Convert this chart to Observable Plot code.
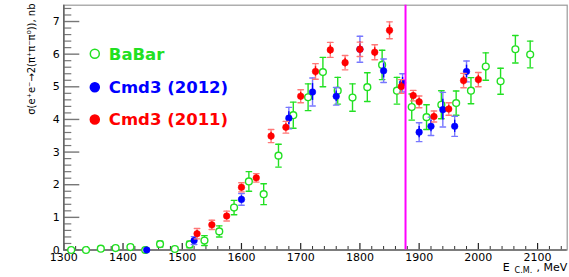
<!DOCTYPE html>
<html><head><meta charset="utf-8">
<script src="https://cdn.jsdelivr.net/npm/d3@7"></script>
<script src="https://cdn.jsdelivr.net/npm/@observablehq/plot@0.6"></script>
<style>body{margin:0;background:#fff} #chart svg{display:block;background:#fff}</style>
</head><body><div id="chart"></div>
<script>
// ---- data ----
const babarE = [1312.5,1337.5,1362.5,1387.5,1412.5,1437.5,1462.5,1487.5,1512.5,1537.5,1562.5,1587.5,1612.5,1637.5,1662.5,1687.5,1712.5,1737.5,1762.5,1787.5,1812.5,1837.5,1862.5,1887.5,1912.5,1937.5,1962.5,1987.5,2012.5,2037.5,2062.5,2087.5];
const babarSigma = [0.00,0.00,0.04,0.06,0.09,0.00,0.18,0.03,0.17,0.29,0.57,1.30,2.10,1.71,2.89,4.13,4.68,5.45,4.88,4.67,4.99,5.67,4.88,4.38,4.07,4.45,4.50,4.88,5.62,5.17,6.15,5.99];
const babarErr = [0.03,0.03,0.04,0.05,0.06,0.04,0.09,0.06,0.10,0.15,0.17,0.22,0.30,0.32,0.35,0.40,0.41,0.45,0.41,0.42,0.44,0.45,0.41,0.40,0.38,0.43,0.37,0.40,0.42,0.40,0.42,0.41];

const cmd12E = [1440,1520,1600,1680,1720,1760,1800,1840,1872,1900,1920,1940,1960,1980];
const cmd12Sigma = [0.00,0.29,1.55,4.04,4.84,4.71,6.15,5.49,5.12,3.61,3.79,4.30,3.79,5.47];
const cmd12Err = [0.05,0.12,0.18,0.33,0.43,0.27,0.40,0.36,0.28,0.29,0.28,0.53,0.31,0.32];

const cmd11E = [1525,1550,1575,1600,1625,1650,1675,1700,1725,1750,1775,1800,1825,1850,1870,1890,1900,1925,1950,1975,2000];
const cmd11Sigma = [0.50,0.77,1.04,1.92,2.21,3.49,3.76,4.71,5.47,6.13,5.74,6.15,6.06,6.73,5.01,4.73,4.54,4.09,4.32,5.19,5.22];
const cmd11Err = [0.16,0.14,0.15,0.14,0.13,0.20,0.18,0.20,0.24,0.23,0.22,0.22,0.23,0.26,0.21,0.16,0.18,0.17,0.19,0.22,0.22];

const thresholdE = [1877];

const xMajor = [1300,1400,1500,1600,1700,1800,1900,2000,2100];
const xMinor = d3.range(1300, 2150, 20).filter(v => v % 100 !== 0);
const yMajor = [0,1,2,3,4,5,6,7];
const yMinor = d3.range(0, 7.5, 0.2).map(v => +v.toFixed(1)).filter(v => Math.abs(v - Math.round(v)) > 1e-6);

const legendLabels = ["BaBar", "Cmd3 (2012)", "Cmd3 (2011)"];
const yTitle = "σ(e⁺e⁻→2(π⁺π⁻π⁰)), nb";

// ---- styles ----
const GREEN = "#22e022", BLUE = "#0000ff", RED = "#ff0000";
const W = 569, H = 277, ML = 63.3, MR = 2.3, MT = 4.7, MB = 27.5;
const PW = W - ML - MR, PH = H - MT - MB;

const rows = (E, S, Er) => E.map((e, i) => ({e, s: S[i], err: Er[i]}));
const babar = rows(babarE, babarSigma, babarErr);
const cmd12 = rows(cmd12E, cmd12Sigma, cmd12Err);
const cmd11 = rows(cmd11E, cmd11Sigma, cmd11Err);

const capShape = {draw(ctx, l) { ctx.moveTo(0, 0); ctx.lineTo(0, -l); }};
function errMarks(data, light, dark, inner) {
  const m = [
    Plot.ruleX(data, {x: "e", y1: d => d.s - d.err, y2: d => d.s + d.err, stroke: light, strokeWidth: 1.4}),
    Plot.vector(data, {x: "e", y: d => d.s + d.err, length: 5.5, rotate: 90, anchor: "middle", shape: capShape, stroke: light, strokeWidth: 1.4}),
    Plot.vector(data, {x: "e", y: d => Math.max(0, d.s - d.err), length: 5.5, rotate: 90, anchor: "middle", shape: capShape, stroke: light, strokeWidth: 1.4})
  ];
  if (inner) m.push(Plot.ruleX(data, {x: "e", y1: d => d.s - 0.6 * d.err, y2: d => d.s + 0.6 * d.err, stroke: dark, strokeWidth: 1.4}));
  return m;
}

const legendColors = [GREEN, BLUE, RED];
const legendFills = ["white", BLUE, RED];
const legendDy = [48.6, 82, 114.3];
const legendMarks = legendLabels.flatMap((lab, i) => [
  Plot.dot([lab], {frameAnchor: "top-left", dx: 31, dy: legendDy[i], r: 4.5, stroke: legendColors[i], fill: legendFills[i], strokeWidth: 1.5}),
  Plot.text([lab], {frameAnchor: "top-left", text: d => d, dx: 45, dy: legendDy[i] + 0.5, textAnchor: "start", lineAnchor: "middle", fill: legendColors[i], fontSize: 16.5, fontWeight: "bold", fontFamily: "DejaVu Sans"})
]);

const chart = Plot.plot({
  width: W, height: H,
  marginLeft: ML, marginRight: MR, marginTop: MT, marginBottom: MB,
  style: {fontFamily: "DejaVu Sans", fontSize: "11px", color: "#000", background: "#fff"},
  x: {domain: [1300, 2150]},
  y: {domain: [0, 7.5]},
  marks: [
    Plot.frame({stroke: "#9a9a9a", strokeWidth: 1.2}),
    Plot.tickY(yMinor, {y: d => d, insetRight: PW - 8, stroke: "#777", strokeWidth: 1.2}),
    Plot.tickY(yMajor, {y: d => d, insetRight: PW - 16, stroke: "#777", strokeWidth: 1.4}),
    Plot.tickX(xMinor, {x: d => d, insetTop: PH - 3.5, stroke: "#333", strokeWidth: 1}),
    Plot.tickX(xMajor, {x: d => d, insetTop: PH - 6.5, stroke: "#222", strokeWidth: 1.2}),
    Plot.ruleX([1300], {stroke: "#666", strokeWidth: 1.6}),
    Plot.ruleY([0], {stroke: "#666", strokeWidth: 1.6}),
    Plot.axisY(yMajor, {tickSize: 0, tickPadding: 4, label: null, fontSize: 11, tickFormat: d => String(d)}),
    Plot.axisX(xMajor, {tickSize: 0, tickPadding: 3, label: null, fontSize: 11, tickFormat: d => String(d)}),
    Plot.text([yTitle], {frameAnchor: "top-left", text: d => d, rotate: -90, textAnchor: "end", lineAnchor: "middle", dx: -32.3, dy: -1.7, fontSize: 10}),
    Plot.text(["E"], {frameAnchor: "bottom-right", text: d => d, textAnchor: "end", lineAnchor: "bottom", dx: -57.4, dy: 20.5, fontSize: 11}),
    Plot.text(["C.M."], {frameAnchor: "bottom-right", text: d => d, textAnchor: "end", lineAnchor: "bottom", dx: -35, dy: 23, fontSize: 8}),
    Plot.text([", MeV"], {frameAnchor: "bottom-right", text: d => d, textAnchor: "end", lineAnchor: "bottom", dx: 0, dy: 20.5, fontSize: 11}),
    ...errMarks(babar, GREEN, GREEN, false),
    Plot.dot(babar, {x: "e", y: "s", r: 3.4, stroke: GREEN, fill: "white", strokeWidth: 1.4}),
    ...errMarks(cmd12, "#7777ff", BLUE, true),
    Plot.dot(cmd12, {x: "e", y: "s", r: 3.3, fill: BLUE, stroke: BLUE, strokeWidth: 0.5}),
    ...errMarks(cmd11, "#ff7777", RED, true),
    Plot.dot(cmd11, {x: "e", y: "s", r: 3.3, fill: RED, stroke: RED, strokeWidth: 0.5}),
    Plot.ruleX(thresholdE, {x: d => d, stroke: "#ff00ff", strokeWidth: 2}),
    ...legendMarks
  ]
});
document.getElementById("chart").appendChild(chart);
</script>
</body></html>
